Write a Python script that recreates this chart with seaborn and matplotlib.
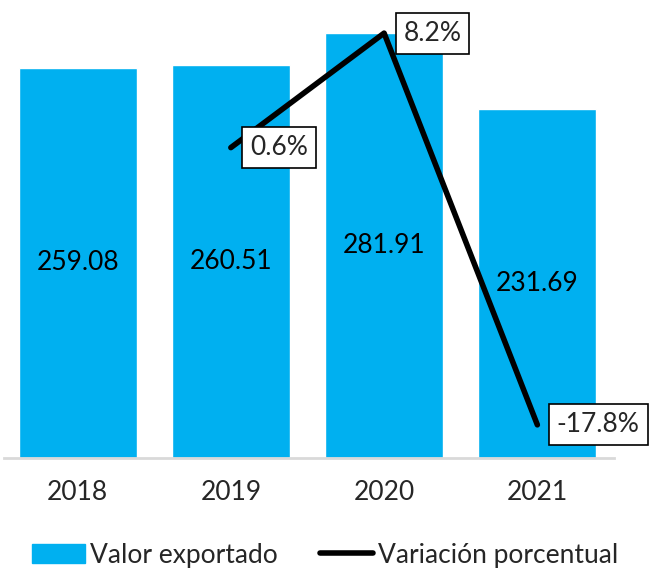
import numpy as np
import pandas as pd
import seaborn as sns
import matplotlib.pyplot as plt
from matplotlib.patches import Patch
from matplotlib.lines import Line2D

# data
years = ["2018", "2019", "2020", "2021"]
valor = [259.08, 260.51, 281.91, 231.69]
var_years = ["2019", "2020", "2021"]
variacion = [0.6, 8.2, -17.8]

sns.set_style("white")
plt.rcParams['font.family'] = ['Lato', 'DejaVu Sans']

blue = "#00B0F0"
fs = 19

df = pd.DataFrame({"year": years, "valor": valor})
df_var = pd.DataFrame({"pos": [years.index(y) for y in var_years], "var": variacion})

fig = plt.figure(figsize=(6.51, 5.70), dpi=100)
ax = fig.add_axes([4 / 651, 112 / 570, 610 / 651, 452 / 570])

sns.barplot(data=df, x="year", y="valor", color=blue, saturation=1, width=0.77, ax=ax)
ax.set_ylim(0, 300)
ax.set_xlim(-0.48, 3.5)

for i, v in enumerate(valor):
    ax.text(i, v / 2, f"{v:.2f}", ha="center", va="center", fontsize=fs, color="black")

ax2 = ax.twinx()
sns.lineplot(data=df_var, x="pos", y="var", color="black", linewidth=4, ax=ax2)
ax2.set_ylim(-20, 10)
for x, v in zip(df_var["pos"], df_var["var"]):
    ax2.annotate(f"{v}%", (x, v), xytext=(14, 0), textcoords="offset points", ha="left", va="center",
                 fontsize=fs, bbox=dict(boxstyle="square,pad=0.3", fc="white", ec="black", lw=1.2))

for a in (ax, ax2):
    a.set_yticks([])
    a.set_ylabel("")
    a.set_xlabel("")
    for s in ["top", "right", "left", "bottom"]:
        a.spines[s].set_visible(False)
ax.spines["bottom"].set_visible(True)
ax.spines["bottom"].set_color("#D9D9D9")
ax.spines["bottom"].set_linewidth(2)
ax.tick_params(axis="x", length=0, labelsize=fs, pad=16)
ax2.tick_params(axis="x", length=0)

handles = [Patch(color=blue, label="Valor exportado"),
           Line2D([0], [0], color="black", lw=4, label="Variación porcentual")]
fig.legend(handles=handles, loc="center", bbox_to_anchor=(0.5, 15 / 570), ncol=2, frameon=False,
           fontsize=fs, handlelength=2.0, handletextpad=0.2, columnspacing=1.6)

fig.savefig("out.png", dpi=100)
